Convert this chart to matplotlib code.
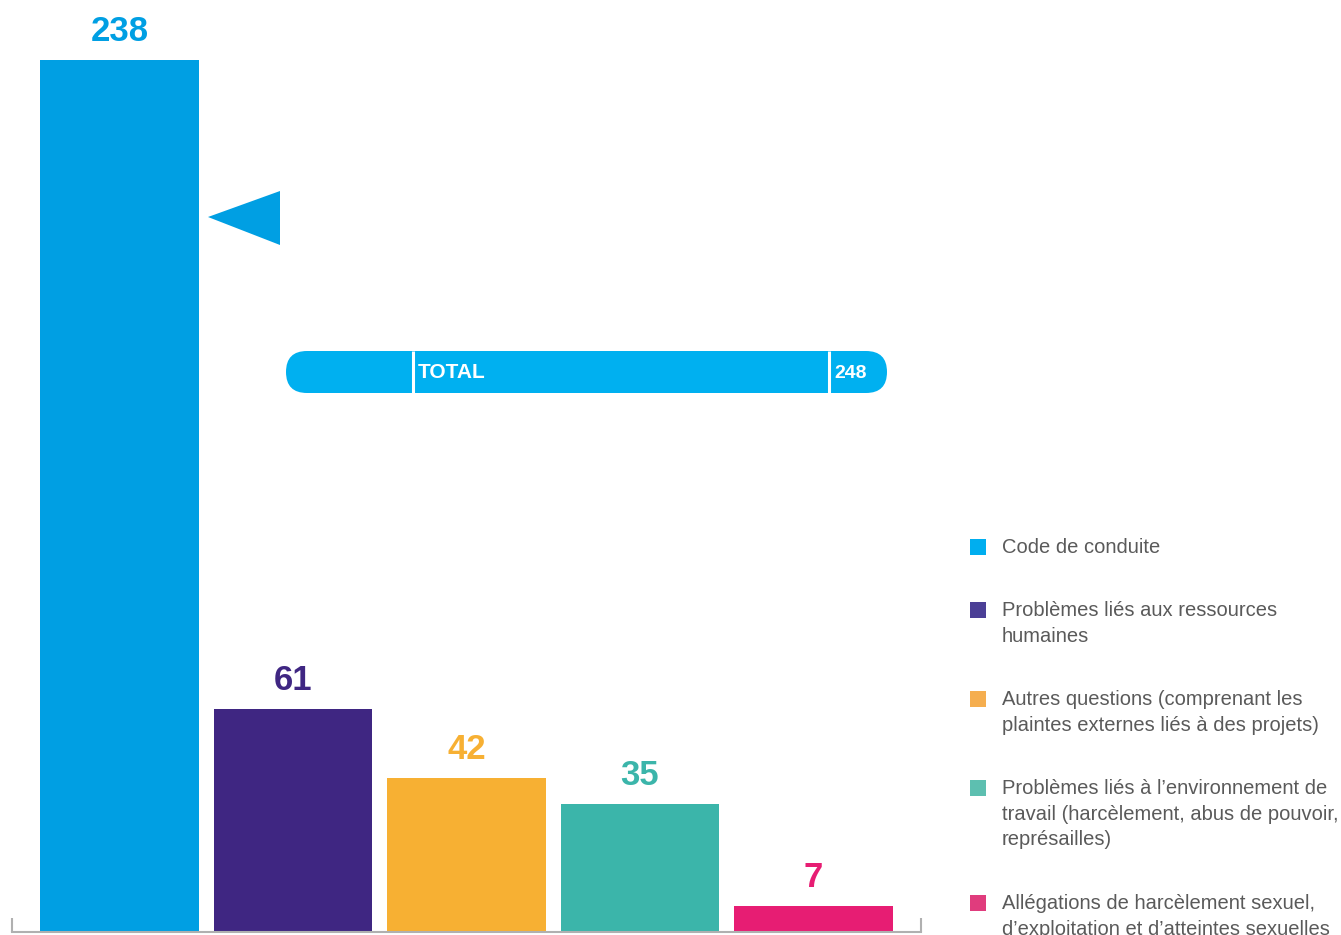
import matplotlib.pyplot as plt
from matplotlib.patches import FancyBboxPatch, Polygon, Rectangle

################################################################################
# data ----
################################################################################

categories = [
    "Code de conduite",
    "Problèmes liés aux ressources\nhumaines",
    "Autres questions (comprenant les\nplaintes externes liés à des projets)",
    "Problèmes liés à l’environnement de\ntravail (harcèlement, abus de pouvoir,\nreprésailles)",
    "Allégations de harcèlement sexuel,\nd’exploitation et d’atteintes sexuelles",
]
values = [238, 61, 42, 35, 7]
total_label = "TOTAL"
total_value = 248

bar_colors = ["#009fe3", "#3f2682", "#f7b033", "#3bb5aa", "#e71d73"]
legend_colors = ["#00aeef", "#4b3f96", "#f5ae4f", "#5dbfb0", "#e03c7d"]

W, H = 1341, 935

################################################################################
# bars ----
################################################################################

fig = plt.figure(figsize=(W / 100, H / 100), dpi=100)
fig.patch.set_facecolor("white")

ax = fig.add_axes([12 / W, 3 / H, 909 / W, 932 / H])
x = list(range(len(values)))
ax.bar(x, values, width=0.916, color=bar_colors, zorder=2)
ax.set_xlim(-0.62, 4.62)
ax.set_ylim(0, 254.4)

for xi, v, c in zip(x, values, bar_colors):
    ax.annotate(str(v), (xi, v), xytext=(0, 20.5), textcoords="offset points",
                ha="center", va="center", color=c, fontsize=25,
                fontweight="bold", family=["Liberation Sans", "DejaVu Sans"])

for s in ["left", "right", "top"]:
    ax.spines[s].set_visible(False)
ax.spines["bottom"].set_color("#b0b0b0")
ax.spines["bottom"].set_linewidth(1.5)
ax.spines["bottom"].set_zorder(3)
ax.set_yticks([])
ax.set_xticks([-0.62, 4.62])
ax.set_xticklabels([])
ax.tick_params(axis="x", direction="in", length=10, width=1.5, color="#b0b0b0")
ax.patch.set_alpha(0)

################################################################################
# overlay in pixel units (arrow, total pill, legend) ----
################################################################################

ov = fig.add_axes([0, 0, 1, 1], zorder=5)
ov.set_xlim(0, W)
ov.set_ylim(H, 0)
ov.axis("off")
ov.patch.set_alpha(0)

# arrow head
ov.add_patch(Polygon([[208, 217], [280, 191], [280, 245]], closed=True,
                     color="#009fe3", lw=0))

# total pill
ov.add_patch(FancyBboxPatch((286, 351), 601, 42,
                            boxstyle="round,pad=0,rounding_size=21",
                            fc="#00b0f0", ec="none"))
for sx in [413.5, 829]:
    ov.plot([sx, sx], [351, 393], color="white", lw=2.2, solid_capstyle="butt")
ov.text(418, 373, total_label, color="white", fontsize=15, fontweight="bold",
        ha="left", va="center", family=["Liberation Sans", "DejaVu Sans"])
ov.text(834, 373, str(total_value), color="white", fontsize=14, fontweight="bold",
        ha="left", va="center", family=["Liberation Sans", "DejaVu Sans"])

# legend
line_h = 26
gap = 37
y = 547
for lab, c in zip(categories, legend_colors):
    ov.add_patch(Rectangle((970, y - 8), 16, 16, color=c, lw=0))
    ov.text(1002, y - 9, lab, color="#5a5a5a", fontsize=14.5, ha="left", va="top",
            linespacing=1.44, family=["Liberation Sans", "DejaVu Sans"])
    y += lab.count("\n") * line_h + line_h + gap

fig.savefig("out.png", dpi=100)
